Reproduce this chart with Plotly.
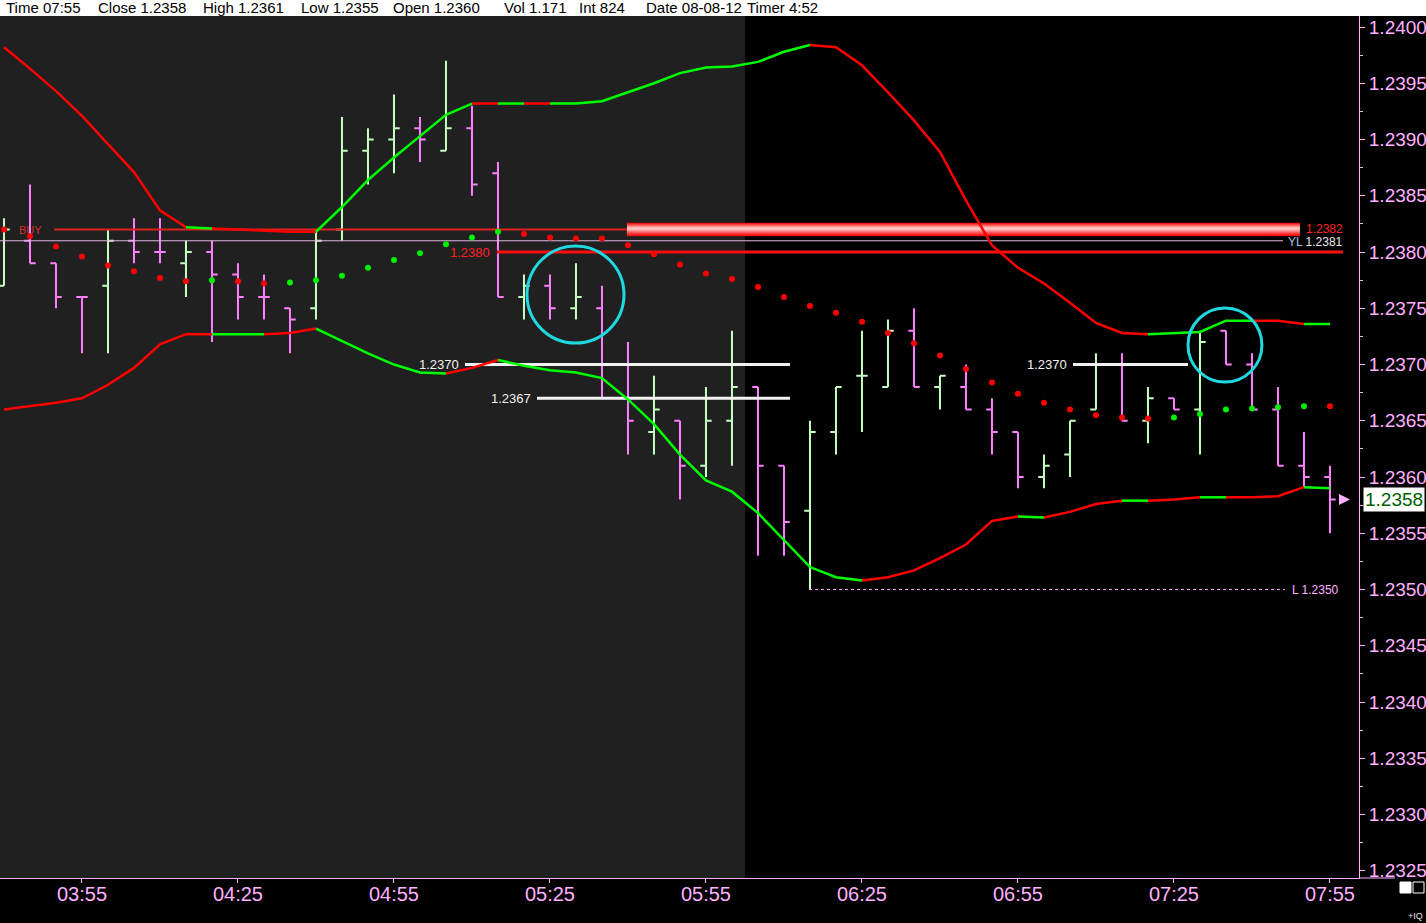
import pandas as pd
import plotly.graph_objects as go

DAY = "2012-08-08 "
times = list(pd.date_range(DAY + "03:40", periods=52, freq="5min"))

opens = [1.2377, 1.2381, 1.2379, 1.2376, 1.2377, 1.2381, 1.2380, 1.2379, 1.2380, 1.2378,
         1.2376, 1.2375, 1.2375, 1.2382, 1.2389, 1.2390, 1.2391, 1.2389, 1.2391, 1.2387,
         1.2376, 1.2377, 1.2375, 1.2375, 1.2370, 1.2364, 1.2365, 1.2361, 1.2365, 1.2368,
         1.2361, 1.2357, 1.2364, 1.2369, 1.2368, 1.2373, 1.2368, 1.2368, 1.2366, 1.2364,
         1.2360, 1.2362, 1.2366, 1.2370, 1.2365, 1.2367, 1.2366, 1.2373, 1.2370, 1.2366,
         1.2361, 1.2360]
highs = [1.2383, 1.2386, 1.2379, 1.2376, 1.2382, 1.2383, 1.2383, 1.2381, 1.2381, 1.2379,
         1.2378, 1.2375, 1.2382, 1.2392, 1.2391, 1.2394, 1.2392, 1.2397, 1.2393, 1.2388,
         1.2378, 1.2378, 1.2379, 1.2377, 1.2372, 1.2369, 1.2365, 1.2368, 1.2373, 1.2368,
         1.2361, 1.2365, 1.2368, 1.2373, 1.2374, 1.2375, 1.2369, 1.2370, 1.2367, 1.2364,
         1.2362, 1.2365, 1.2371, 1.2371, 1.2368, 1.2367, 1.2373, 1.2373, 1.2371, 1.2368,
         1.2364, 1.2361]
lows = [1.2377, 1.2379, 1.2375, 1.2371, 1.2371, 1.2379, 1.2379, 1.2376, 1.2372, 1.2374,
        1.2374, 1.2371, 1.2374, 1.2381, 1.2386, 1.2387, 1.2388, 1.2389, 1.2385, 1.2376,
        1.2374, 1.2374, 1.2374, 1.2367, 1.2362, 1.2362, 1.2358, 1.2360, 1.2361, 1.2353,
        1.2353, 1.2350, 1.2362, 1.2364, 1.2368, 1.2368, 1.2366, 1.2366, 1.2362, 1.2359,
        1.2359, 1.2360, 1.2366, 1.2365, 1.2363, 1.2366, 1.2362, 1.2370, 1.2366, 1.2361,
        1.2359, 1.2355]
closes = [1.2382, 1.2379, 1.2376, 1.2376, 1.2381, 1.2380, 1.2380, 1.2380, 1.2378, 1.2376,
          1.2376, 1.2374, 1.2381, 1.2389, 1.2390, 1.2391, 1.2390, 1.2391, 1.2386, 1.2376,
          1.2377, 1.2375, 1.2376, 1.2370, 1.2365, 1.2366, 1.2361, 1.2365, 1.2368, 1.2361,
          1.2356, 1.2364, 1.2368, 1.2369, 1.2373, 1.2368, 1.2369, 1.2366, 1.2364, 1.2360,
          1.2361, 1.2365, 1.2370, 1.2365, 1.2367, 1.2366, 1.2372, 1.2370, 1.2366, 1.2361,
          1.2360, 1.2358]
# bar colour as drawn: U = light green, D = pink
bar_dir = "UDDD UDDU DDDD UUUU DUDD UDUD DUDU UDDU UUUD UDDD UUUD UDUD DDDD".replace(" ", "")

upper_band = [1.23982, 1.23963, 1.23943, 1.23921, 1.23896, 1.23871, 1.23837, 1.23822, 1.23821, 1.23820,
              1.23819, 1.23818, 1.23818, 1.23840, 1.23864, 1.23884, 1.23903, 1.23922, 1.23932, 1.23932,
              1.23932, 1.23932, 1.23932, 1.23934, 1.23942, 1.23950, 1.23959, 1.23964, 1.23965, 1.23969,
              1.23978, 1.23984, 1.23982, 1.23966, 1.23942, 1.23917, 1.23889, 1.23846, 1.23806, 1.23786,
              1.23772, 1.23755, 1.23737, 1.23728, 1.23727, 1.23728, 1.23729, 1.23739, 1.23739, 1.23739,
              1.23736, 1.23736]
lower_band = [1.23660, 1.23663, 1.23666, 1.23670, 1.23682, 1.23697, 1.23718, 1.23727, 1.23727, 1.23727,
              1.23727, 1.23728, 1.23732, 1.23721, 1.23710, 1.23700, 1.23693, 1.23692, 1.23697, 1.23704,
              1.23699, 1.23695, 1.23693, 1.23688, 1.23669, 1.23647, 1.23620, 1.23597, 1.23587, 1.23568,
              1.23544, 1.23520, 1.23511, 1.23508, 1.23511, 1.23517, 1.23528, 1.23540, 1.23561, 1.23565,
              1.23564, 1.23569, 1.23576, 1.23579, 1.23579, 1.23580, 1.23582, 1.23582, 1.23582, 1.23583,
              1.23591, 1.23590]
upper_seg = ("RRRRRRR" "G" "RRRR" "GGGGGG" "R" "G" "R" "GGGGGGGGGG" "RRRRRRRRRRRRR" "GGGG" "RR" "G")
lower_seg = ("RRRRRRRR" "GG" "RR" "GGGGG" "RR" "GGGGGGGGGGGGGG" "RRRRRR" "G" "RRR" "G" "RR" "G" "RRR" "G")

dots = [1.23820, 1.23814, 1.23805, 1.23796, 1.23788, 1.23783, 1.23777, 1.23774, 1.23775, 1.23774,
        1.23772, 1.23773, 1.23775, 1.23779, 1.23786, 1.23793, 1.23799, 1.23807, 1.23813, 1.23818,
        1.23816, 1.23813, 1.23812, 1.23812, 1.23806, 1.23798, 1.23789, 1.23781, 1.23776, 1.23769,
        1.23760, 1.23752, 1.23746, 1.23738, 1.23728, 1.23719, 1.23708, 1.23696, 1.23684, 1.23674,
        1.23666, 1.23660, 1.23655, 1.23653, 1.23652, 1.23653, 1.23656, 1.23660, 1.23661, 1.23662,
        1.23663, 1.23663]
dot_colors = "RRRRRRRRGRRGGGGGGGGG" "RRRRRRRRRRRRRRRRRRRRRRRRR" "GGGGGGR"

x_tick_times = ["03:55", "04:25", "04:55", "05:25", "05:55", "06:25", "06:55", "07:25", "07:55"]
x_tick_text = ["03:55", "04:25", "04:55", "05:25", "05:55", "06:25", "06:55", "07:25", "07:55"]
y_tick_vals = [1.2325, 1.2330, 1.2335, 1.2340, 1.2345, 1.2350, 1.2355, 1.2360, 1.2365, 1.2370,
               1.2375, 1.2380, 1.2385, 1.2390, 1.2395, 1.2400]
y_tick_text = ["1.2325", "1.2330", "1.2335", "1.2340", "1.2345", "1.2350", "1.2355", "1.2360",
               "1.2365", "1.2370", "1.2375", "1.2380", "1.2385", "1.2390", "1.2395", "1.2400"]
y_minor_vals = [1.23275, 1.23325, 1.23375, 1.23425, 1.23475, 1.23525, 1.23575, 1.23625,
                1.23675, 1.23725, 1.23775, 1.23825, 1.23875, 1.23925, 1.23975]

header_fields = ["Time 07:55", "Close 1.2358", "High 1.2361", "Low 1.2355", "Open 1.2360",
                 "Vol 1.171", "Int 824", "Date 08-08-12", "Timer 4:52"]

buy_level, yl_level, entry_level, low_level = 1.2382, 1.2381, 1.2380, 1.2350
white_levels = [1.2370, 1.2367, 1.2370]
last_close = closes[-1]


def T(s):
    return pd.Timestamp(DAY + s)


PINK_BAR = "#FF80FF"
GREEN_BAR = "#C4FFC0"
RED = "#FF0000"
GREEN = "#00FF00"
AXIS = "#FFB0FF"
CYAN = "#20D8E0"
SANS = "Liberation Sans, Arial, sans-serif"

x_left, x_right = T("03:39:14"), T("08:00:35")
y_bottom, y_top = 1.232436, 1.240098
PLOT_W, PLOT_H, TOP, BOT = 1359.0, 862.0, 16, 878

fig = go.Figure()


def hline(x0, x1, y, color, width, dash=None):
    fig.add_trace(go.Scatter(x=[x0, x1], y=[y, y], mode="lines",
                             line=dict(color=color, width=width, dash=dash),
                             hoverinfo="skip", showlegend=False))


# level lines
hline(x_left, T("07:45:58"), yl_level, "#E0B8E0", 1)
hline(T("03:49:37"), T("05:39:48"), buy_level, "#E02020", 2)
hline(T("05:14:48"), T("07:57:30"), entry_level, "#FF1010", 3)
hline(T("05:08:39"), T("06:11:09"), white_levels[0], "#F2F2F2", 3)
hline(T("05:22:30"), T("06:11:09"), white_levels[1], "#F2F2F2", 3)
hline(T("07:05:35"), T("07:27:42"), white_levels[2], "#F2F2F2", 3)
hline(T("06:14:49"), T("07:46:21"), low_level, AXIS, 1, "3px,3px")

# gradient bar at the buy level
g0, g1 = T("05:39:48"), T("07:49:14")
half = 0.00006
fig.add_trace(go.Scatter(
    x=[g0, g1, g1, g0, g0],
    y=[buy_level - half, buy_level - half, buy_level + half, buy_level + half, buy_level - half],
    mode="none", fill="toself",
    fillgradient=dict(type="vertical",
                      colorscale=[[0, "#E80000"], [0.2, "#FF3838"], [0.5, "#FFB8B8"],
                                  [0.62, "#FFC8C8"], [0.85, "#FF4848"], [1, "#E80000"]]),
    hoverinfo="skip", showlegend=False))

# OHLC bars
for d, col in (("D", PINK_BAR), ("U", GREEN_BAR)):
    idx = [i for i, c in enumerate(bar_dir) if c == d]
    fig.add_trace(go.Ohlc(
        x=[times[i] for i in idx],
        open=[opens[i] for i in idx], high=[highs[i] for i in idx],
        low=[lows[i] for i in idx], close=[closes[i] for i in idx],
        increasing=dict(line=dict(color=col, width=2)),
        decreasing=dict(line=dict(color=col, width=2)),
        tickwidth=0.22, hoverinfo="skip", showlegend=False))


# bands, coloured segment by segment
def add_band(vals, seg):
    n = len(seg)
    i = 0
    while i < n:
        j = i
        while j + 1 < n and seg[j + 1] == seg[i]:
            j += 1
        fig.add_trace(go.Scatter(
            x=times[i:j + 2], y=vals[i:j + 2], mode="lines",
            line=dict(color=RED if seg[i] == "R" else GREEN, width=2.5),
            hoverinfo="skip", showlegend=False))
        i = j + 1


add_band(upper_band, upper_seg)
add_band(lower_band, lower_seg)

# dots
fig.add_trace(go.Scatter(
    x=times, y=dots, mode="markers",
    marker=dict(size=6, color=[RED if c == "R" else "#00F000" for c in dot_colors],
                line=dict(width=0)),
    hoverinfo="skip", showlegend=False))

# last price arrow
fig.add_trace(go.Scatter(
    x=[T("07:58:51")], y=[last_close], mode="markers",
    marker=dict(symbol="arrow-right", size=11, color=AXIS, line=dict(width=0)),
    cliponaxis=False, hoverinfo="skip", showlegend=False))

shapes = [
    # shaded previous session
    dict(type="rect", xref="x", yref="paper", x0=T("03:30"), x1=T("06:02:30"), y0=0, y1=1,
         fillcolor="#202020", line=dict(width=0), layer="below"),
    # circles
    dict(type="circle", xref="x", yref="y", x0=T("05:20:35"), x1=T("05:39:14"),
         y0=1.237191, y1=1.238053, line=dict(color=CYAN, width=3)),
    dict(type="circle", xref="x", yref="y", x0=T("07:27:42"), x1=T("07:41:55"),
         y0=1.236844, y1=1.237502, line=dict(color=CYAN, width=3)),
    # header strip
    dict(type="rect", xref="paper", yref="paper", x0=0, x1=1426 / PLOT_W, y0=1,
         y1=1 + TOP / PLOT_H + 0.001, fillcolor="white", line=dict(width=0)),
    # axis line extension under price scale
    dict(type="line", xref="paper", yref="paper", x0=1, x1=1395 / PLOT_W, y0=0, y1=0,
         line=dict(color=AXIS, width=1)),
    # small icons bottom right
    dict(type="rect", xref="paper", yref="paper", x0=1400 / PLOT_W, x1=1411 / PLOT_W,
         y0=(BOT - 893) / PLOT_H, y1=(BOT - 882) / PLOT_H, fillcolor="white",
         line=dict(color="white", width=1)),
    dict(type="rect", xref="paper", yref="paper", x0=1413 / PLOT_W, x1=1424 / PLOT_W,
         y0=(BOT - 893) / PLOT_H, y1=(BOT - 882) / PLOT_H,
         line=dict(color="white", width=1)),
]

annotations = []
header_px = [4, 96, 201, 299, 391, 502, 577, 644, 745]
for txt, px in zip(header_fields, header_px):
    annotations.append(dict(text=txt, xref="paper", yref="paper", x=px / PLOT_W,
                            y=1 + 8 / PLOT_H, xanchor="left", yanchor="middle",
                            showarrow=False, font=dict(family=SANS, size=15, color="black")))


def lab(text, x, y, color, anchor, shift, size=12):
    annotations.append(dict(text=text, xref="x", yref="y", x=x, y=y, xanchor=anchor,
                            yanchor="middle", xshift=shift, showarrow=False,
                            font=dict(family=SANS, size=size, color=color)))


lab("BUY", T("03:42:42"), buy_level, "#D83030", "left", -1, 11)
lab("1.2382", g1, buy_level + 0.000005, "#FF2020", "left", 4, 12)
lab("<span style='color:#A8C0E0'>YL</span> 1.2381", T("07:45:58"), yl_level - 0.000008,
    "#E8E8E8", "left", 3, 12)
lab("1.2380", T("05:14:48"), entry_level, "#FF2020", "right", -5, 13)
lab("1.2370", T("05:08:39"), white_levels[0], "#F2F2F2", "right", -4, 13)
lab("1.2367", T("05:22:30"), white_levels[1], "#F2F2F2", "right", -4, 13)
lab("1.2370", T("07:05:35"), white_levels[2], "#F2F2F2", "right", -4, 13)
lab("L 1.2350", T("07:46:21"), low_level, AXIS, "left", 5, 12)

# last price box
annotations.append(dict(text="1.2358", xref="paper", yref="y", x=1363 / PLOT_W, y=last_close,
                        xanchor="left", yanchor="middle", showarrow=False,
                        bgcolor="white", borderpad=1,
                        font=dict(family=SANS, size=19, color="#006000")))
annotations.append(dict(text="+IQ", xref="paper", yref="paper", x=1425 / PLOT_W,
                        y=(BOT - 916) / PLOT_H, xanchor="right", yanchor="middle",
                        showarrow=False, font=dict(family=SANS, size=9, color="#E0E0E0")))

fig.update_layout(
    template="none",
    width=1426, height=923,
    margin=dict(l=0, r=67, t=TOP, b=923 - BOT, pad=0, autoexpand=False),
    paper_bgcolor="black", plot_bgcolor="black",
    showlegend=False,
    shapes=shapes, annotations=annotations,
    xaxis=dict(type="date", range=[x_left, x_right], automargin=False,
               tickmode="array", tickvals=[T(s) for s in x_tick_times], ticktext=x_tick_text,
               ticks="outside", ticklen=4, tickcolor=AXIS, ticklabelstandoff=-6,
               showline=True, linecolor=AXIS, linewidth=1,
               showgrid=False, zeroline=False,
               tickfont=dict(family=SANS, size=20, color=AXIS),
               rangeslider=dict(visible=False), fixedrange=True),
    yaxis=dict(side="right", range=[y_bottom, y_top], automargin=False,
               tickmode="array", tickvals=y_tick_vals, ticktext=y_tick_text,
               ticks="outside", ticklen=5, tickcolor=AXIS,
               minor=dict(tickmode="array", tickvals=y_minor_vals, ticks="outside",
                          ticklen=3, tickcolor=AXIS, showgrid=False),
               showline=True, linecolor=AXIS, linewidth=1,
               showgrid=False, zeroline=False,
               tickfont=dict(family=SANS, size=19, color=AXIS), fixedrange=True),
)

fig.write_html(
    "out.html",
    config={"displayModeBar": False},
    post_script="document.body.style.margin='0px';document.body.style.padding='0px';"
                "document.body.style.overflow='hidden';",
)
